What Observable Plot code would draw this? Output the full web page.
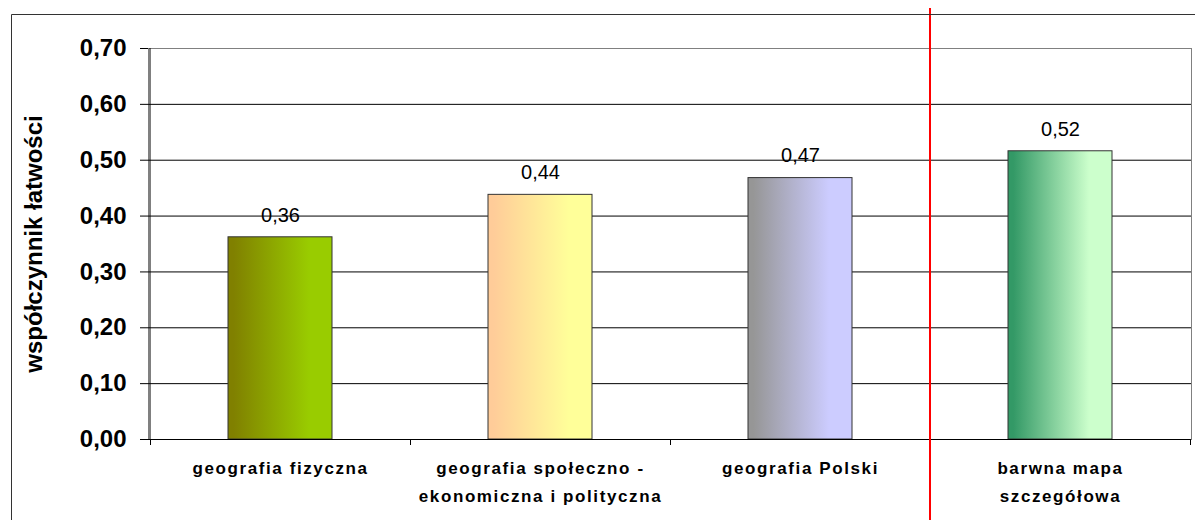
<!DOCTYPE html>
<html>
<head>
<meta charset="utf-8">
<script src="https://cdn.jsdelivr.net/npm/d3@7"></script>
<script src="https://cdn.jsdelivr.net/npm/@observablehq/plot@0.6"></script>
<style>
  html, body { margin: 0; padding: 0; background: #fff; }
  #chart svg { display: block; }
  g[aria-label="x-axis tick label"] text { letter-spacing: 1.6px; }
</style>
</head>
<body>
<div id="chart"></div>
<script>
// ---- data ----
const categories = [
  "geografia fizyczna",
  "geografia społeczno - ekonomiczna i polityczna",
  "geografia Polski",
  "barwna mapa szczegółowa"
];
const xLabels = [
  "geografia fizyczna",
  "geografia społeczno -\nekonomiczna i polityczna",
  "geografia Polski",
  "barwna mapa\nszczegółowa"
];
const values = [0.362, 0.438, 0.468, 0.516];
const valueLabels = ["0,36", "0,44", "0,47", "0,52"];
const yTicks = [0, 0.1, 0.2, 0.3, 0.4, 0.5, 0.6, 0.7];
const yTitle = "współczynnik łatwości";

// ---- styles ----
const gradLeft  = ["#808000", "#ffcc99", "#969696", "#339966"];
const gradRight = ["#99cc00", "#ffff99", "#ccccff", "#ccffcc"];

const table = categories.map((c, i) => ({
  category: c, value: values[i], label: valueLabels[i], grad: `url(#grad${i})`
}));
const labelOf = new Map(categories.map((c, i) => [c, xLabels[i]]));

function defsMark() {
  const defs = d3.create("svg:defs");
  gradLeft.forEach((l, i) => {
    const g = defs.append("linearGradient")
      .attr("id", `grad${i}`).attr("x1", 0).attr("x2", 1).attr("y1", 0).attr("y2", 0);
    g.append("stop").attr("offset", 0.05).attr("stop-color", l);
    g.append("stop").attr("offset", 0.78).attr("stop-color", gradRight[i]);
  });
  return defs.node();
}

function decorations(index, scales, values, dimensions) {
  const x = scales.x;
  const {width, height} = dimensions;
  const bw = x.bandwidth ? x.bandwidth() : 0;
  const centers = categories.map(c => x(c) + bw / 2);
  const step = centers[1] - centers[0];
  const bounds = [centers[0] - step / 2];
  for (let i = 0; i < centers.length - 1; i++) bounds.push((centers[i] + centers[i + 1]) / 2);
  bounds.push(centers[centers.length - 1] + step / 2);
  const y0 = scales.y(0);
  const yTop = scales.y(yTicks[yTicks.length - 1]);
  const g = d3.create("svg:g");
  // left axis line
  g.append("line").attr("x1", bounds[0]).attr("x2", bounds[0])
    .attr("y1", yTop).attr("y2", y0).attr("stroke", "#000");
  // category boundary ticks
  bounds.forEach(b => {
    const bx = Math.round(b) + 0.5;
    g.append("line").attr("x1", bx).attr("x2", bx)
      .attr("y1", y0).attr("y2", y0 + 6).attr("stroke", "#000");
  });
  // red separator between 3rd and 4th category
  const rx = Math.round(bounds[3]);
  g.append("line").attr("x1", rx).attr("x2", rx)
    .attr("y1", 8).attr("y2", height).attr("stroke", "#ff0000").attr("stroke-width", 2);
  // outer chart border (left and top)
  g.append("path").attr("d", `M11.5,${height}V14.5H${width}`)
    .attr("fill", "none").attr("stroke", "#333").attr("stroke-width", 1);
  return g.node();
}

const chart = Plot.plot({
  width: 1195,
  height: 520,
  marginLeft: 148,
  marginRight: 4,
  marginTop: 48,
  marginBottom: 81,
  style: {fontFamily: "'Liberation Sans', Arial, sans-serif", background: "#fff", color: "#000"},
  x: {domain: categories, paddingInner: 0.6, paddingOuter: 0.3, label: null},
  y: {domain: [0, 0.7], label: null},
  color: {type: "identity"},
  marks: [
    defsMark,
    Plot.frame({stroke: "#808080"}),
    Plot.gridY(yTicks.filter(t => t > 0 && t < 0.7), {stroke: "#000", strokeOpacity: 1}),
    Plot.barY(table, {x: "category", y: "value", fill: "grad", stroke: "#333", strokeWidth: 1}),
    Plot.ruleY([0], {stroke: "#000"}),
    Plot.axisY({ticks: yTicks, tickSize: 8, tickPadding: 14, fontSize: 24, fontWeight: "bold",
      tickFormat: d => d.toFixed(2).replace(".", ","), label: null}),
    Plot.axisX({tickSize: 0, tickPadding: 15, fontSize: 17, fontWeight: "bold", lineHeight: 1.65,
      tickFormat: d => labelOf.get(d), label: null}),
    Plot.text(table, {x: "category", y: "value", text: "label", dy: -22, lineAnchor: "middle", fontSize: 20, fill: "#000"}),
    Plot.text([yTitle], {frameAnchor: "left", textAnchor: "middle", lineAnchor: "middle", rotate: -90, dx: -114,
      fontSize: 24, fontWeight: "bold", fill: "#000"}),
    decorations
  ]
});
document.getElementById("chart").appendChild(chart);
</script>
</body>
</html>
